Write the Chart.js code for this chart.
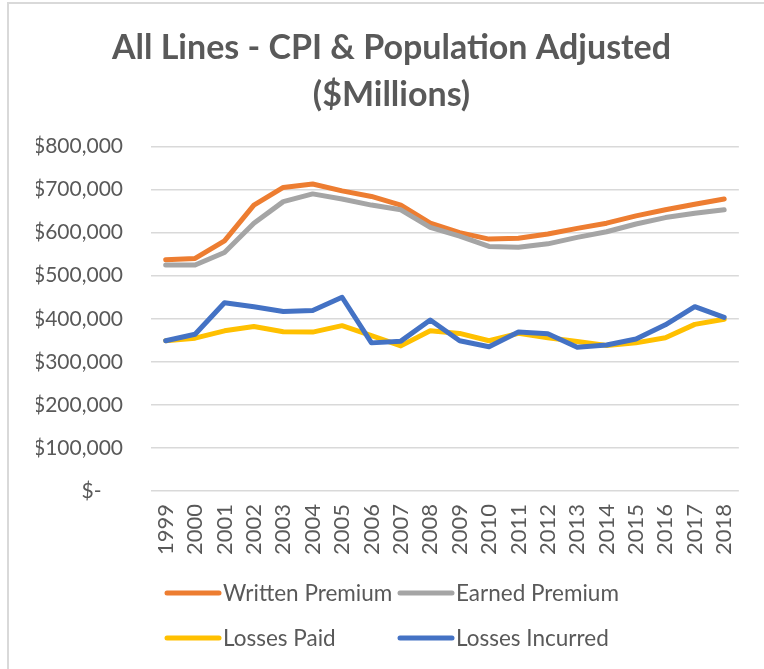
<!DOCTYPE html>
<html>
<head>
<meta charset="utf-8">
<script src="https://cdn.jsdelivr.net/npm/chart.js@4.4.1/dist/chart.umd.min.js"></script>
<style>
  html, body { margin: 0; padding: 0; background: #ffffff; }
  #wrap { position: relative; width: 764px; height: 669px; overflow: hidden; }
  #frame { position: absolute; left: 7px; top: 2px; width: 900px; height: 900px;
           border-left: 2px solid #d9d9d9; border-top: 2px solid #d9d9d9; pointer-events: none; }
  canvas { position: absolute; left: 0; top: 0; }
</style>
</head>
<body>
<div id="wrap">
  <canvas id="c" width="764" height="669"></canvas>
  <div id="frame"></div>
</div>
<script>
// ---- data ----
const years = ['1999','2000','2001','2002','2003','2004','2005','2006','2007','2008',
               '2009','2010','2011','2012','2013','2014','2015','2016','2017','2018'];
const writtenPremium = [537000, 540000, 581000, 664000, 705000, 713000, 697000, 684000, 664000, 622000,
                        600000, 585000, 587000, 597000, 610000, 622000, 639000, 653000, 666000, 678000];
const earnedPremium  = [525000, 525000, 554000, 622000, 672000, 690000, 678000, 664000, 653000, 612000,
                        592000, 568000, 566000, 574000, 589000, 602000, 620000, 635000, 645000, 653000];
const lossesPaid     = [349000, 355000, 372000, 382000, 370000, 369000, 384000, 361000, 337000, 372000,
                        366000, 349000, 366000, 356000, 347000, 338000, 344000, 356000, 387000, 399000];
const lossesIncurred = [349000, 364000, 437000, 428000, 417000, 419000, 450000, 344000, 348000, 397000,
                        349000, 335000, 369000, 365000, 334000, 339000, 353000, 386000, 428000, 403000];
const seriesNames  = ['Written Premium', 'Earned Premium', 'Losses Paid', 'Losses Incurred'];
const seriesColors = ['#ED7D31', '#A5A5A5', '#FFC000', '#4472C4'];
const titleLines = ['All Lines - CPI & Population Adjusted', '($Millions)'];
const yMin = 0, yMax = 800000, yStep = 100000;

const TXT = '#595959';
const FONT = 'Lato, "Open Sans", sans-serif';

const seriesValues = [writtenPremium, earnedPremium, lossesPaid, lossesIncurred];
const drawOrder = [3, 2, 1, 0]; // lower order drawn on top

const datasets = seriesNames.map((name, i) => ({
  label: name,
  data: seriesValues[i],
  borderColor: seriesColors[i],
  backgroundColor: seriesColors[i],
  borderWidth: 5,
  borderCapStyle: 'round',
  borderJoinStyle: 'round',
  pointRadius: 0,
  pointHoverRadius: 0,
  tension: 0,
  fill: false,
  order: drawOrder[i]
}));

// custom two-column legend (Excel style)
const legendPlugin = {
  id: 'excelLegend',
  afterDraw(chart) {
    const ctx = chart.ctx;
    const cols = [165, 398];
    const rows = [593, 638];
    const lineLen = 56;
    ctx.save();
    ctx.font = '22.5px ' + FONT;
    ctx.fillStyle = TXT;
    ctx.textBaseline = 'middle';
    ctx.textAlign = 'left';
    chart.data.datasets.forEach((ds, i) => {
      const x = cols[i % 2];
      const y = rows[Math.floor(i / 2)];
      ctx.strokeStyle = ds.borderColor;
      ctx.lineWidth = 5;
      ctx.lineCap = 'round';
      ctx.beginPath();
      ctx.moveTo(x + 2, y);
      ctx.lineTo(x + lineLen - 2, y);
      ctx.stroke();
      ctx.fillText(ds.label, x + lineLen + 2, y + 1);
    });
    ctx.restore();
  }
};

new Chart(document.getElementById('c'), {
  type: 'line',
  data: { labels: years, datasets: datasets },
  options: {
    responsive: false,
    animation: false,
    events: [],
    layout: { padding: { left: 36, right: 17, top: 0, bottom: 88 } },
    plugins: {
      legend: { display: false },
      tooltip: { enabled: false },
      title: {
        display: true,
        text: titleLines,
        color: TXT,
        font: { family: FONT, size: 34, weight: 'bold', lineHeight: 1.39 },
        padding: { top: 24, bottom: 28 }
      }
    },
    scales: {
      x: {
        offset: true,
        grid: { display: false, drawTicks: false },
        border: { display: false },
        ticks: {
          color: TXT,
          font: { family: FONT, size: 22 },
          minRotation: 90,
          maxRotation: 90,
          padding: 13,
          autoSkip: false
        },
        afterFit(s) { s.height = 90; }
      },
      y: {
        min: yMin,
        max: yMax,
        grid: { color: '#d9d9d9', lineWidth: 1.5, drawTicks: false },
        border: { display: false },
        ticks: {
          stepSize: yStep,
          color: TXT,
          font: { family: FONT, size: 21 },
          padding: 28,
          callback: (v) => v === 0 ? '$-    ' : '$' + v.toLocaleString('en-US')
        },
        afterFit(s) { s.width = 115; }
      }
    }
  },
  plugins: [legendPlugin]
});
</script>
</body>
</html>
